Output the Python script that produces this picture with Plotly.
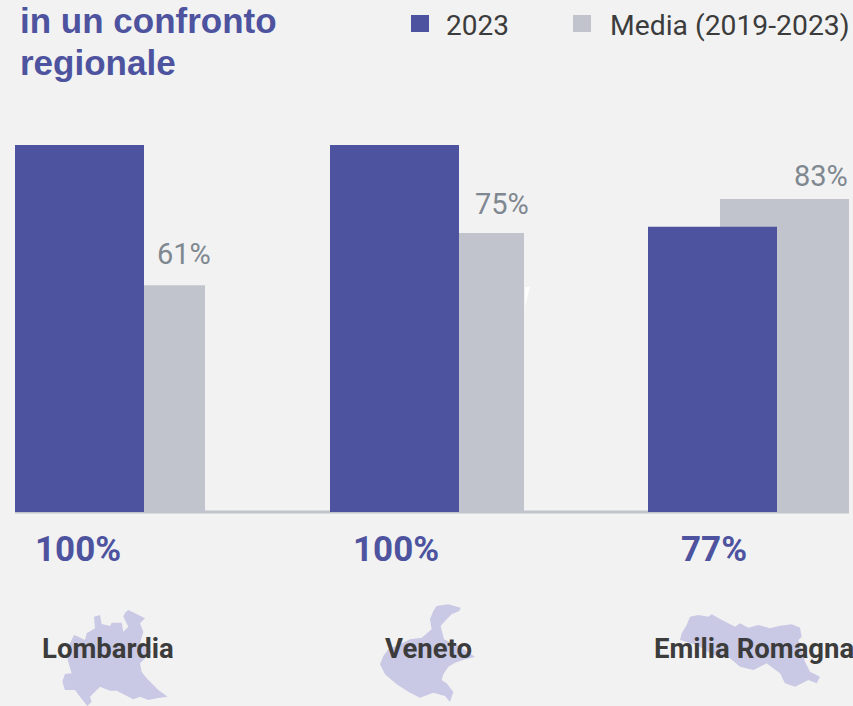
import plotly.graph_objects as go

W, H = 853, 706
PLOT_L, PLOT_R, PLOT_T, PLOT_B = 15, 849, 145, 512

regions = ["Lombardia", "Veneto", "Emilia Romagna"]
series_2023 = [100, 100, 77.7]
series_media = [61.8, 76, 85.3]
labels_2023 = ["100%", "100%", "77%"]
labels_media = ["61%", "75%", "83%"]
legend_names = ["2023", "Media (2019-2023)"]
title_lines = ["in un confronto", "regionale"]

BLUE = "#4D539F"
GREY = "#C1C4CC"
MAP = "#C9C8E5"
BG = "#F2F2F2"
DARK = "#3C3C3C"
MUTED = "#7F8890"

UNIT = 316.5
BAR_W = 129
centers = [79.5 + i * UNIT for i in range(3)]
blue_left = [15, 330, 648]
grey_left = [76, 395, 720]
blue_off = [(l - c) / UNIT for l, c in zip(blue_left, centers)]
grey_off = [(l - c) / UNIT for l, c in zip(grey_left, centers)]
x_range = [(PLOT_L - centers[0]) / UNIT, (PLOT_R - centers[0]) / UNIT]


def px(x):
    return (x - PLOT_L) / (PLOT_R - PLOT_L)


def py(y):
    return (PLOT_B - y) / (PLOT_B - PLOT_T)


def poly(points, ox, oy, fill, opacity=1):
    pts = [(ox + a / 3, oy + b / 3) for a, b in points]
    d = "M" + " L".join(f"{px(a):.5f} {py(b):.5f}" for a, b in pts) + " Z"
    return dict(type="path", xref="paper", yref="paper", path=d, fillcolor=fill,
                line=dict(width=0), layer="below", opacity=opacity)


def rect(x0, y0, x1, y1, fill, layer="below"):
    return dict(type="rect", xref="paper", yref="paper", x0=px(x0), x1=px(x1),
                y0=py(y1), y1=py(y0), fillcolor=fill, line=dict(width=0), layer=layer)


def text(t, x, y, size, color, family="Roboto", xanchor="center", yanchor="middle"):
    return dict(text=t, xref="paper", yref="paper", x=px(x), y=py(y), showarrow=False,
                xanchor=xanchor, yanchor=yanchor, align="left",
                font=dict(family=family, size=size, color=color))


lombardia = [(385,330),(405,340),(435,355),(420,370),(430,395),(420,430),(455,455),(420,490),(425,515),(440,535),(475,570),(503,590),(470,595),(445,600),(420,590),(400,598),(350,572),(330,572),(300,560),(270,590),(275,605),(262,618),(240,590),(225,570),(195,570),(187,545),(195,522),(215,520),(203,480),(205,440),(222,405),(235,410),(255,420),(260,400),(285,385),(282,350),(300,345),(305,372),(330,378),(335,368),(365,368),(370,395),(385,380),(370,350),(375,338)]
veneto = [(200,30),(235,25),(272,35),(268,45),(245,55),(225,75),(212,90),(222,130),(265,150),(290,165),(315,183),(285,190),(255,200),(235,212),(220,235),(215,252),(230,262),(250,288),(240,318),(225,300),(190,290),(150,305),(120,290),(80,265),(45,235),(30,205),(40,180),(55,160),(90,145),(120,130),(155,125),(185,100),(180,70),(190,45)]
emilia = [(60,35),(85,30),(115,35),(125,28),(150,42),(175,55),(195,65),(210,55),(235,68),(265,60),(300,70),(330,62),(365,58),(390,68),(395,95),(385,105),(395,135),(405,170),(420,200),(450,215),(440,235),(415,225),(375,245),(345,235),(330,205),(290,175),(250,195),(210,185),(175,155),(130,150),(80,120),(30,105),(35,85),(50,60)]

fig = go.Figure()
fig.add_trace(go.Bar(x=regions, y=series_media, name=legend_names[1], width=BAR_W / UNIT,
                     offset=grey_off, marker=dict(color=GREY, line=dict(width=0))))
fig.add_trace(go.Bar(x=regions, y=series_2023, name=legend_names[0], width=BAR_W / UNIT,
                     offset=blue_off, marker=dict(color=BLUE, line=dict(width=0))))

shapes = [
    rect(PLOT_L, 510.5, PLOT_R, 513.5, GREY),
    rect(411, 15, 429, 32, BLUE),
    rect(573, 15, 591, 32, GREY),
    poly(lombardia, 0, 500, MAP),
    poly(veneto, 370, 596, MAP),
    poly(emilia, 670, 605, MAP),
    poly([(75, 52), (90, 50), (75, 112)], 500, 270, "#FFFFFF", 0.8),
]

annotations = [
    text(f"<b>{title_lines[0]}</b>", 18, 21, 35, BLUE, "Liberation Sans", xanchor="left"),
    text(f"<b>{title_lines[1]}</b>", 18, 62, 35, BLUE, "Liberation Sans", xanchor="left"),
    text(legend_names[0], 477, 25, 28, DARK),
    text(legend_names[1], 730, 25, 28.3, DARK),
]
for lab, x, y in zip(labels_media, [184, 502, 821], [254, 204, 176]):
    annotations.append(text(lab, x, y, 29, MUTED))
for lab, x in zip(labels_2023, [78, 396, 714]):
    annotations.append(text(f"<b>{lab}</b>", x, 549, 35, BLUE))
for lab, x in zip(regions, [108, 428, 753.5]):
    annotations.append(text(f"<b>{lab}</b>", x, 648, 27.5, DARK))

fig.update_layout(
    width=W, height=H, autosize=False, barmode="overlay", showlegend=False,
    margin=dict(l=PLOT_L, r=W - PLOT_R, t=PLOT_T, b=H - PLOT_B, pad=0),
    paper_bgcolor=BG, plot_bgcolor=BG,
    xaxis=dict(range=x_range, showgrid=False, showticklabels=False, ticks="", zeroline=False, showline=False, type="category"),
    yaxis=dict(range=[0, 100], showgrid=False, showticklabels=False, ticks="", zeroline=False, showline=False),
    shapes=shapes, annotations=annotations,
)
fig.write_html("out.html", config=dict(displayModeBar=False),
               post_script="document.body.style.margin='0';document.documentElement.style.overflow='hidden';")
